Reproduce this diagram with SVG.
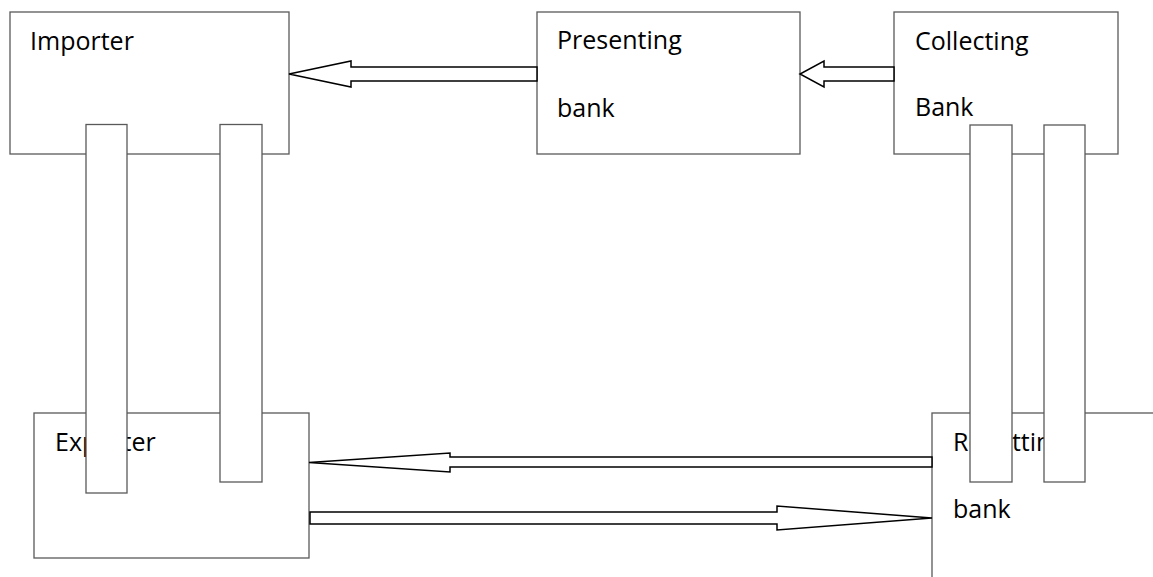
<svg xmlns="http://www.w3.org/2000/svg" width="1153" height="577" viewBox="0 0 1153 577">
<style>
.box{fill:#fff;stroke:#595959;stroke-width:1.3}
.bar{fill:#fff;stroke:#595959;stroke-width:1.3}
.lbl{font-family:"Open Sans","Liberation Sans",sans-serif;font-size:25px;fill:#000}
.arr{fill:#fff;stroke:#000;stroke-width:1.5;stroke-linejoin:miter}
</style>
<rect width="1153" height="577" fill="#fff"/>
<g id="importer">
<rect class="box" x="10" y="12" width="279" height="142"/>
<text class="lbl" x="30" y="50">Importer</text>
</g>
<g id="presenting-bank">
<rect class="box" x="537" y="12" width="263" height="142"/>
<text class="lbl" x="557" y="49">Presenting</text>
<text class="lbl" x="557" y="117">bank</text>
</g>
<g id="collecting-bank">
<rect class="box" x="894" y="12" width="224" height="142"/>
<text class="lbl" x="915" y="50">Collecting</text>
<text class="lbl" x="915" y="116">Bank</text>
</g>
<g id="exporter">
<rect class="box" x="34" y="413" width="275" height="145"/>
<text class="lbl" x="55" y="451">Exporter</text>
</g>
<g id="remitting-bank">
<rect class="box" x="932" y="413" width="300" height="200"/>
<text class="lbl" x="953" y="451">Remitting</text>
<text class="lbl" x="953" y="518">bank</text>
</g>
<g id="connectors">
<polygon class="arr" points="537,67 351,67 351,61 289,74 351,87 351,81 537,81"/>
<polygon class="arr" points="894,67 824,67 824,61 800,74 824,87 824,81 894,81"/>
<polygon class="arr" points="932,457 450,457 450,453 309,462.5 450,472 450,467 932,467"/>
<polygon class="arr" points="310,512 777,512 777,506 932,518 777,530 777,524 310,524"/>
</g>
<g id="link-importer-exporter-1"><rect class="bar" x="86" y="124.5" width="41" height="368.5"/></g>
<g id="link-importer-exporter-2"><rect class="bar" x="220" y="124.5" width="42" height="357.5"/></g>
<g id="link-collecting-remitting-1"><rect class="bar" x="970" y="125" width="42" height="357"/></g>
<g id="link-collecting-remitting-2"><rect class="bar" x="1044" y="125" width="41" height="357"/></g>
</svg>
